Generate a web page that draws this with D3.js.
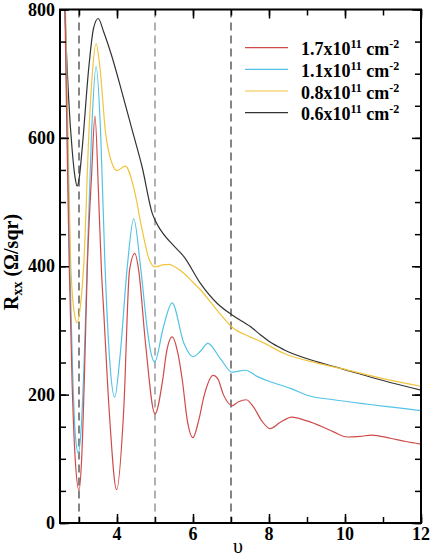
<!DOCTYPE html>
<html>
<head>
<meta charset="utf-8">
<script src="https://cdn.jsdelivr.net/npm/d3@7"></script>
<style>
  body { margin: 0; background: #fff; }
  svg text { font-family: "Liberation Serif", "DejaVu Serif", serif; }
</style>
</head>
<body>
<svg id="svg"></svg>
<script>
// data (nu, Rxx in Ohm/sqr)
const redNu  = [2.55, 2.67, 2.74, 2.82, 2.9, 3.0, 3.07, 3.14, 3.22, 3.33, 3.42, 3.52, 3.59, 3.65, 3.8, 3.99, 4.18, 4.33, 4.47, 4.57, 4.75, 5.0, 5.2, 5.3, 5.45, 5.6, 5.72, 5.85, 6.0, 6.15, 6.3, 6.53, 6.65, 6.8, 7.03, 7.2, 7.4, 7.6, 7.8, 8.03, 8.3, 8.6, 9.0, 9.4, 9.7, 10.06, 10.4, 10.7, 11.2, 11.6, 12];
const redRxx = [1100, 650, 408, 215, 100, 51, 100, 222, 400, 540, 634, 503, 394, 330, 170, 52, 180, 394, 420, 394, 280, 170, 222, 265, 290, 265, 222, 160, 133, 160, 200, 230, 225, 200, 183, 189, 192, 180, 160, 147, 157, 165, 159, 150, 142, 134, 135, 137, 132, 127, 123];

const cyanNu  = [2.55, 2.68, 2.75, 2.83, 2.9, 2.98, 3.06, 3.14, 3.21, 3.33, 3.45, 3.57, 3.68, 3.8, 3.94, 4.08, 4.27, 4.44, 4.62, 4.8, 4.88, 4.99, 5.22, 5.45, 5.76, 6.0, 6.2, 6.39, 6.72, 7.03, 7.38, 7.7, 8.03, 8.3, 8.6, 9.0, 9.7, 10.6, 11.3, 12];
const cyanRxx = [1100, 650, 420, 240, 140, 109, 150, 260, 394, 607, 711, 607, 408, 260, 196, 260, 399, 474, 399, 300, 269, 251, 305, 343, 280, 259, 268, 280, 256, 235, 238, 228, 220, 215, 209, 199, 192, 185, 180, 175];

const yellowNu  = [2.55, 2.645, 2.71, 2.78, 2.87, 2.95, 3.04, 3.13, 3.26, 3.35, 3.45, 3.55, 3.7, 3.87, 4.0, 4.22, 4.45, 4.65, 4.85, 5.0, 5.2, 5.36, 5.55, 5.76, 6.0, 6.2, 6.64, 7.03, 7.5, 7.78, 8.4, 9.27, 9.88, 11.0, 12];
const yellowRxx = [1000, 800, 607, 408, 330, 312, 340, 408, 607, 700, 747, 710, 607, 560, 549, 556, 520, 460, 410, 399, 402, 403, 398, 389, 375, 363, 331, 305, 290, 283, 264, 249, 241, 225, 213];

const blackNu  = [2.55, 2.63, 2.73, 2.82, 2.9, 2.95, 3.0, 3.08, 3.26, 3.38, 3.505, 3.65, 3.87, 4.14, 4.4, 4.66, 4.93, 5.1, 5.2, 5.49, 5.76, 6.2, 6.64, 7.03, 7.51, 7.78, 8.0, 8.39, 9.27, 9.88, 11.0, 12];
const blackRxx = [1000, 800, 659, 581, 537, 525, 535, 581, 711, 770, 786, 765, 726, 669, 612, 555, 482, 461, 452, 432, 415, 373, 342, 324, 306, 293, 283, 270, 251, 241, 222, 207];

const seriesNames  = ["1.7x10", "1.1x10", "0.8x10", "0.6x10"];
const seriesColors = ["#cf4b4b", "#52c3e6", "#f2c33c", "#333333"];
const dashedNu = [3, 5, 7];
const dashedColors = ["#444", "#888", "#444"];

const xTicks = [4, 6, 8, 10, 12];
const yTicks = [0, 200, 400, 600, 800];

const svgWidth = 434, svgHeight = 560;
const plotLeft = 60, plotRight = 421, plotTop = 9.5, plotBottom = 523;

const svg = d3.select("#svg").attr("width", svgWidth).attr("height", svgHeight);

const x = d3.scaleLinear().domain([2.5, 12]).range([plotLeft, plotRight]);
const y = d3.scaleLinear().domain([0, 800]).range([plotBottom, plotTop]);

svg.append("clipPath").attr("id", "clip")
  .append("rect").attr("x", plotLeft).attr("y", plotTop)
  .attr("width", plotRight - plotLeft).attr("height", plotBottom - plotTop);

// dashed guide lines at odd fillings
svg.selectAll(".guide").data(dashedNu).enter().append("line")
  .attr("x1", d => x(d)).attr("x2", d => x(d))
  .attr("y1", plotTop).attr("y2", plotBottom)
  .attr("stroke", (d, i) => dashedColors[i])
  .attr("stroke-width", 1.3)
  .attr("stroke-dasharray", "8,5");

const series = [
  [redNu, redRxx], [cyanNu, cyanRxx], [yellowNu, yellowRxx], [blackNu, blackRxx]
];

const line = d3.line()
  .x(d => x(d[0])).y(d => y(d[1]))
  .curve(d3.curveMonotoneX);

const g = svg.append("g").attr("clip-path", "url(#clip)");
// black first so the coloured ones sit on top
[3, 2, 1, 0].forEach(i => {
  const pts = d3.zip(series[i][0], series[i][1]);
  g.append("path").datum(pts)
    .attr("d", line)
    .attr("fill", "none")
    .attr("stroke", seriesColors[i])
    .attr("stroke-width", 1.2);
});

// axes on four sides, ticks pointing in
const tickMajor = 9, tickMinor = 6;
const fmt = d3.format("d");
const xMinor = d3.range(3, 12.01, 1);
const yMinor = d3.range(0, 801, 50);

svg.append("g").attr("transform", `translate(0,${plotBottom})`)
  .call(d3.axisTop(x).tickValues(xMinor).tickSize(tickMinor).tickFormat(""));
svg.append("g").attr("transform", `translate(0,${plotBottom})`)
  .call(d3.axisTop(x).tickValues(xTicks).tickSize(tickMajor).tickFormat(""));
svg.append("g").attr("transform", `translate(0,${plotTop})`)
  .call(d3.axisBottom(x).tickValues(xMinor).tickSize(tickMinor).tickFormat(""));
svg.append("g").attr("transform", `translate(0,${plotTop})`)
  .call(d3.axisBottom(x).tickValues(xTicks).tickSize(tickMajor).tickFormat(""));

svg.append("g").attr("transform", `translate(${plotLeft},0)`)
  .call(d3.axisRight(y).tickValues(yMinor).tickSize(tickMinor).tickFormat(""));
svg.append("g").attr("transform", `translate(${plotLeft},0)`)
  .call(d3.axisRight(y).tickValues(yTicks).tickSize(tickMajor).tickFormat(""));
svg.append("g").attr("transform", `translate(${plotRight},0)`)
  .call(d3.axisLeft(y).tickValues(yMinor).tickSize(tickMinor).tickFormat(""));
svg.append("g").attr("transform", `translate(${plotRight},0)`)
  .call(d3.axisLeft(y).tickValues(yTicks).tickSize(tickMajor).tickFormat(""));

svg.selectAll(".domain").remove();
svg.selectAll(".tick line").attr("stroke", "#000").attr("stroke-width", 1.5);

svg.append("rect")
  .attr("x", plotLeft).attr("y", plotTop)
  .attr("width", plotRight - plotLeft).attr("height", plotBottom - plotTop)
  .attr("fill", "none").attr("stroke", "#000").attr("stroke-width", 2);

// tick labels
svg.selectAll(".xl").data(xTicks).enter().append("text")
  .attr("x", d => x(d)).attr("y", 540)
  .attr("text-anchor", "middle")
  .attr("font-size", 18).attr("font-weight", "bold")
  .text(fmt);

svg.selectAll(".yl").data(yTicks).enter().append("text")
  .attr("x", 55).attr("y", d => y(d) + 6)
  .attr("text-anchor", "end")
  .attr("font-size", 18).attr("font-weight", "bold")
  .text(fmt);

// axis titles
svg.append("text")
  .attr("x", 238).attr("y", 553)
  .attr("text-anchor", "middle")
  .attr("font-size", 20)
  .text("\u03C5");

const yt = svg.append("text")
  .attr("transform", "translate(18,262) rotate(-90)")
  .attr("text-anchor", "middle")
  .attr("font-size", 20).attr("font-weight", "bold");
yt.append("tspan").text("R");
yt.append("tspan").attr("font-size", 14).attr("dy", 4).text("xx");
yt.append("tspan").attr("dy", -4).text(" (\u03A9/sqr)");

// legend
const legendY = [47.7, 69.3, 91, 112.7];
const lg = svg.selectAll(".lg").data(seriesNames).enter().append("g");
lg.append("line")
  .attr("x1", 245).attr("x2", 288)
  .attr("y1", (d, i) => legendY[i]).attr("y2", (d, i) => legendY[i])
  .attr("stroke", (d, i) => seriesColors[i]).attr("stroke-width", 1.2);
const lt = lg.append("text")
  .attr("x", 301).attr("y", (d, i) => legendY[i] + 7.5)
  .attr("font-size", 18).attr("font-weight", "bold");
lt.append("tspan").text(d => d);
lt.append("tspan").attr("font-size", 12).attr("dy", -7).text("11");
lt.append("tspan").attr("dy", 7).text(" cm");
lt.append("tspan").attr("font-size", 12).attr("dy", -7).text("-2");
</script>
</body>
</html>
